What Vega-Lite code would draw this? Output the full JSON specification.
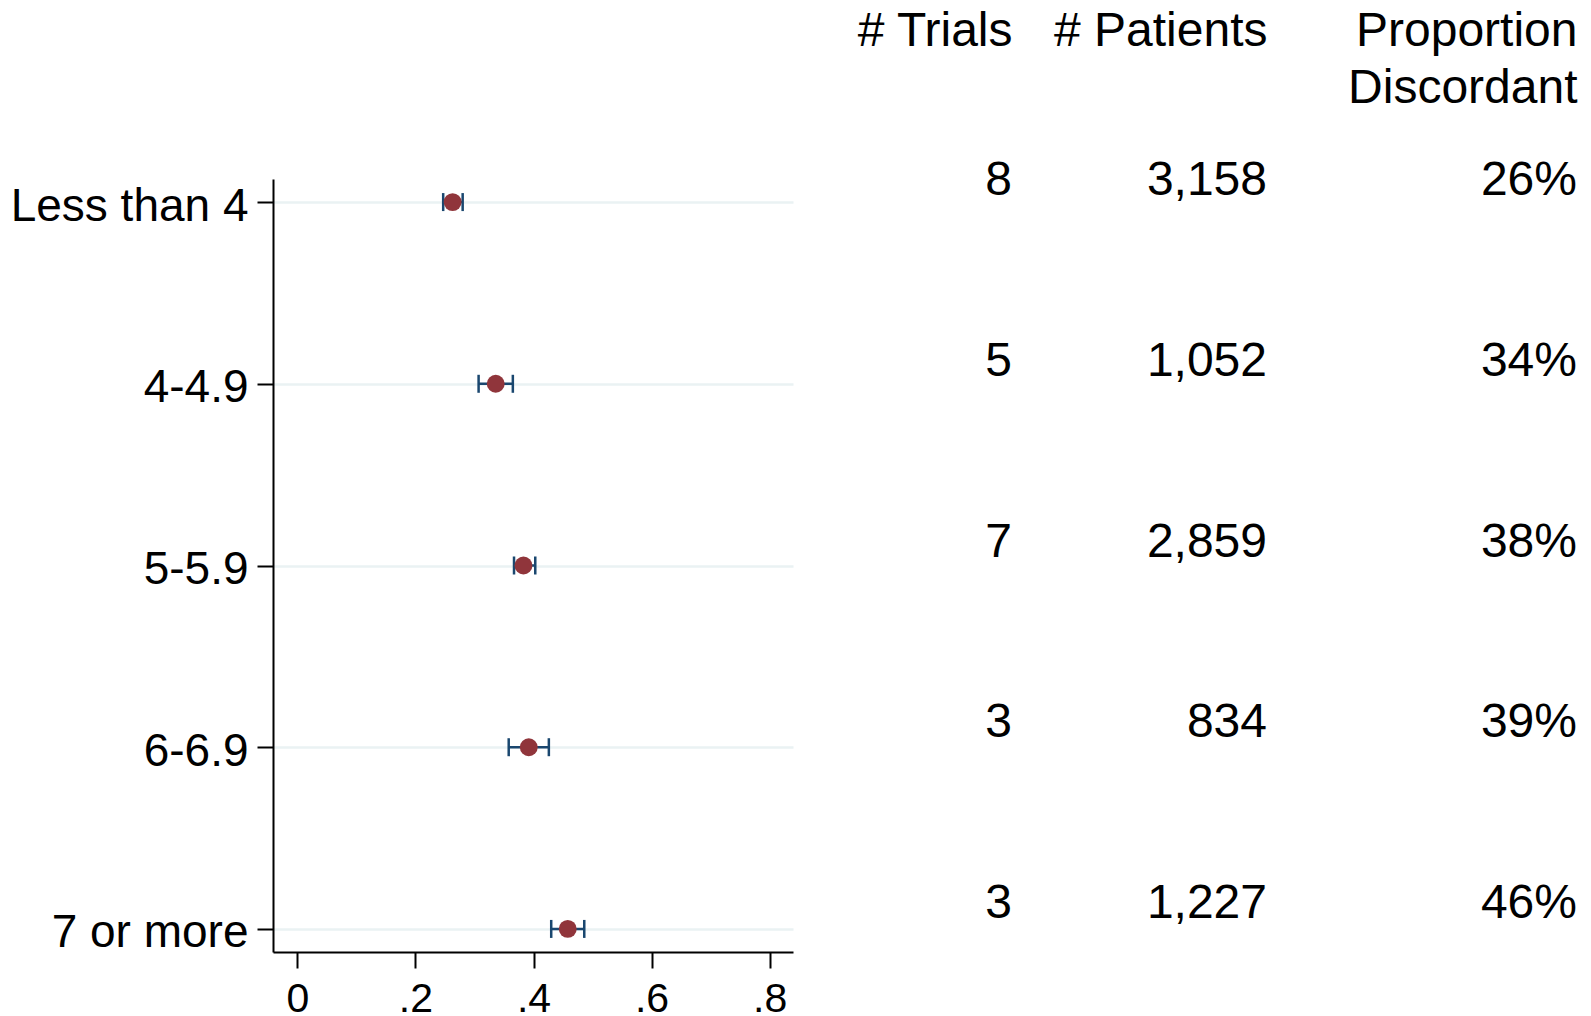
{
  "$schema": "https://vega.github.io/schema/vega-lite/v6.json",
  "background": "white",
  "padding": {"left": 10, "top": 7, "right": 4, "bottom": 0},
  "bounds": "flush",
  "spacing": 0,
  "config": {
    "font": "Liberation Sans",
    "view": {"stroke": null},
    "axis": {"labelColor": "black", "domainColor": "black", "tickColor": "black", "labelLimit": 0}
  },
  "datasets": {
    "rows": [
      {"group": "Less than 4", "trials": 8, "patients": 3158, "prop": 0.263, "lo": 0.247, "hi": 0.280},
      {"group": "4-4.9", "trials": 5, "patients": 1052, "prop": 0.336, "lo": 0.307, "hi": 0.365},
      {"group": "5-5.9", "trials": 7, "patients": 2859, "prop": 0.383, "lo": 0.367, "hi": 0.403},
      {"group": "6-6.9", "trials": 3, "patients": 834, "prop": 0.392, "lo": 0.358, "hi": 0.426},
      {"group": "7 or more", "trials": 3, "patients": 1227, "prop": 0.458, "lo": 0.430, "hi": 0.486}
    ]
  },
  "hconcat": [
    {
      "width": 520,
      "height": 773,
      "data": {"name": "rows"},
      "encoding": {
        "y": {
          "field": "group", "type": "nominal", "sort": null,
          "scale": {"type": "point", "padding": 0.127},
          "axis": {"title": null, "grid": true, "gridColor": "#eaf2f3", "gridWidth": 2.5, "domainWidth": 2, "tickSize": 16, "tickWidth": 2, "labelFontSize": 46, "labelPadding": 9, "labelOffset": 4, "labelLimit": 0, "labelAngle": 0}
        }
      },
      "layer": [
        {
          "mark": {"type": "rule", "color": "#1a476f", "strokeWidth": 2.5},
          "encoding": {
            "x": {
              "field": "lo", "type": "quantitative", "title": null,
              "scale": {"domain": [-0.0413, 0.8396], "nice": false, "zero": false},
              "axis": {"title": null, "grid": false, "values": [0, 0.2, 0.4, 0.6, 0.8], "domainWidth": 2, "tickSize": 16, "tickWidth": 2, "labelFontSize": 41, "labelPadding": 11, "labelFlush": false, "labelAngle": 0, "labelExpr": "datum.value == 0 ? '0' : replace(format(datum.value, '.1f'), '0.', '.')"}
            },
            "x2": {"field": "hi"}
          }
        },
        {
          "mark": {"type": "tick", "color": "#1a476f", "size": 18, "thickness": 2.5, "opacity": 1},
          "encoding": {"x": {"field": "lo", "type": "quantitative", "title": null}}
        },
        {
          "mark": {"type": "tick", "color": "#1a476f", "size": 18, "thickness": 2.5, "opacity": 1},
          "encoding": {"x": {"field": "hi", "type": "quantitative", "title": null}}
        },
        {
          "mark": {"type": "circle", "color": "#90353b", "size": 320, "opacity": 1},
          "encoding": {"x": {"field": "prop", "type": "quantitative", "title": null}}
        }
      ]
    },
    {
      "width": 219,
      "height": 727,
      "data": {"name": "rows"},
      "mark": {"type": "text", "align": "right", "baseline": "middle", "fontSize": 48, "color": "black"},
      "encoding": {
        "y": {"field": "group", "type": "nominal", "sort": null, "scale": {"type": "point", "padding": 0.01}, "axis": null},
        "x": {
          "datum": "# Trials", "type": "nominal",
          "scale": {"type": "point", "padding": 0, "align": 1},
          "axis": {"orient": "top", "title": null, "domain": false, "ticks": false, "tickSize": 0, "labelAngle": 0, "labelFontSize": 48, "labelAlign": "right", "labelBaseline": "top", "labelPadding": 172, "labelLineHeight": 57, "labelLimit": 0, "labelExpr": "split(datum.label, '\\n')"}
        },
        "text": {"field": "trials", "type": "quantitative", "format": "d"}
      }
    },
    {
      "width": 255,
      "height": 727,
      "data": {"name": "rows"},
      "mark": {"type": "text", "align": "right", "baseline": "middle", "fontSize": 48, "color": "black"},
      "encoding": {
        "y": {"field": "group", "type": "nominal", "sort": null, "scale": {"type": "point", "padding": 0.01}, "axis": null},
        "x": {
          "datum": "# Patients", "type": "nominal",
          "scale": {"type": "point", "padding": 0, "align": 1},
          "axis": {"orient": "top", "title": null, "domain": false, "ticks": false, "tickSize": 0, "labelAngle": 0, "labelFontSize": 48, "labelAlign": "right", "labelBaseline": "top", "labelPadding": 172, "labelLineHeight": 57, "labelLimit": 0, "labelExpr": "split(datum.label, '\\n')"}
        },
        "text": {"field": "patients", "type": "quantitative", "format": ",d"}
      }
    },
    {
      "width": 310,
      "height": 727,
      "data": {"name": "rows"},
      "mark": {"type": "text", "align": "right", "baseline": "middle", "fontSize": 48, "color": "black"},
      "encoding": {
        "y": {"field": "group", "type": "nominal", "sort": null, "scale": {"type": "point", "padding": 0.01}, "axis": null},
        "x": {
          "datum": "Proportion\nDiscordant", "type": "nominal",
          "scale": {"type": "point", "padding": 0, "align": 1},
          "axis": {"orient": "top", "title": null, "domain": false, "ticks": false, "tickSize": 0, "labelAngle": 0, "labelFontSize": 48, "labelAlign": "right", "labelBaseline": "top", "labelPadding": 172, "labelLineHeight": 57, "labelLimit": 0, "labelExpr": "split(datum.label, '\\n')"}
        },
        "text": {"field": "prop", "type": "quantitative", "format": ".0%"}
      }
    }
  ]
}
